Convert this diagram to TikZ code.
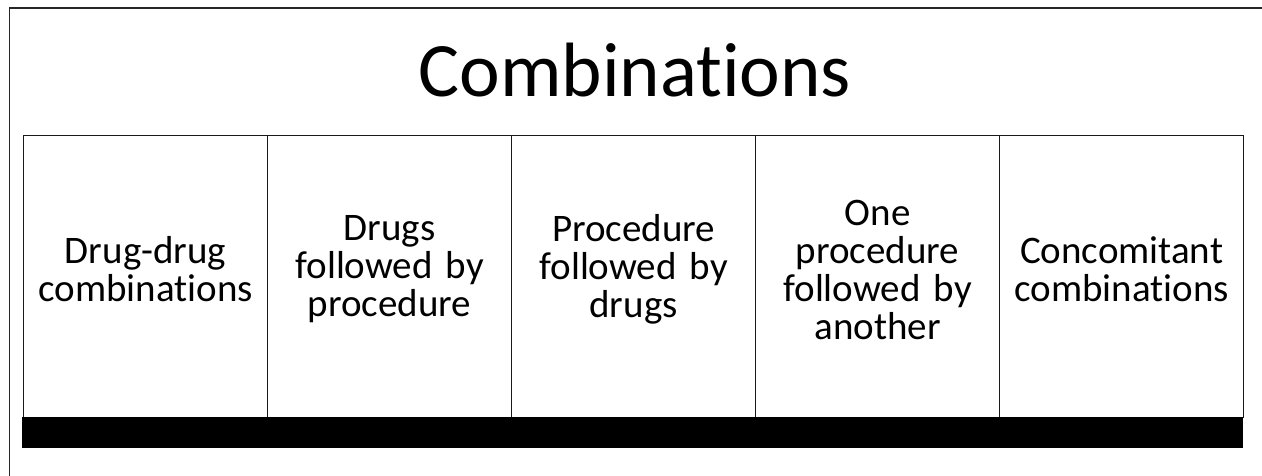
\documentclass[tikz,border=0pt]{standalone}
\usepackage{fontspec}
\setmainfont{Carlito}[Ligatures=NoCommon]
\begin{document}
\begin{tikzpicture}[x=1pt,y=-1pt,
  colbox/.style={draw=black!90, line width=1.2pt, minimum width=244pt, minimum height=282pt,
    inner sep=0pt, anchor=north west},
  coltext/.style={text width=236pt, align=center, inner sep=0pt,
    font=\fontsize{39}{38}\selectfont},
  frameline/.style={draw=black!85, line width=1.5pt}]
\useasboundingbox (0,0) rectangle (1262,476);
\fill[white] (0,0) rectangle (1262,476);
\coordinate (fbl) at (9.5,476);
\coordinate (ftl) at (9.5,8);
\coordinate (ftr) at (1262,8);
\draw[frameline] (fbl) -- (ftl) -- (ftr);
\node[font=\fontsize{77}{80}\selectfont, inner sep=0pt] (title) at (635,70) {Combinations};
\node[colbox] (c1) at (23,135) {};
\node[colbox] (c2) at (267,135) {};
\node[colbox] (c3) at (511,135) {};
\node[colbox] (c4) at (755,135) {};
\node[colbox] (c5) at (999,135) {};
\node[coltext] (t1) at ([yshift=7pt]c1.center) {Drug-drug\\combinations};
\node[coltext] (t2) at ([yshift=7pt]c2.center) {Drugs\\followed by\\procedure};
\node[coltext] (t3) at ([yshift=7pt]c3.center) {Procedure\\followed by\\drugs};
\node[coltext] (t4) at ([yshift=7pt]c4.center) {One\\procedure\\followed by\\another};
\node[coltext] (t5) at ([yshift=7pt]c5.center) {Concomitant\\combinations};
\node[fill=black, minimum width=1221pt, minimum height=31pt, inner sep=0pt, anchor=north west] (bar) at (22,417) {};
\end{tikzpicture}
\end{document}
